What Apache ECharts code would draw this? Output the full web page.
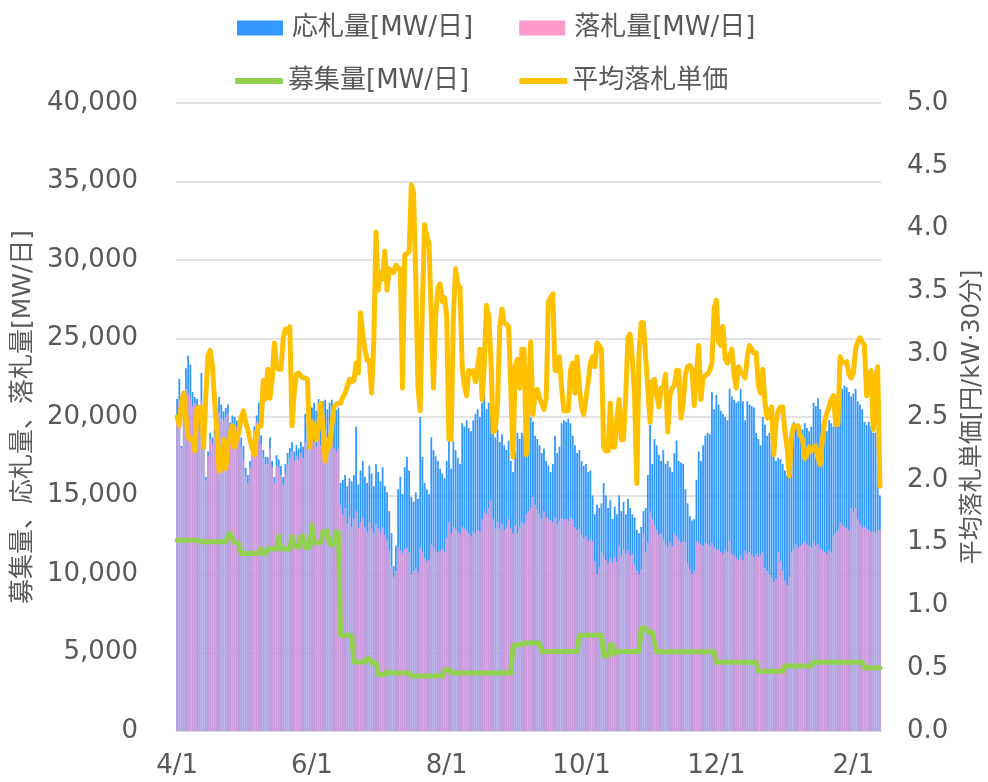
<!DOCTYPE html>
<html>
<head>
<meta charset="utf-8">
<script src="https://cdn.jsdelivr.net/npm/echarts@6/dist/echarts.min.js"></script>
<style>
  html, body { margin: 0; padding: 0; background: #fff; }
  #chart { width: 988px; height: 782px; }
</style>
</head>
<body>
<div id="chart"></div>
<script>
// daily data from 4/1 to 2/13
const monthLengths = [30, 31, 30, 31, 31, 30, 31, 30, 31, 31, 28];
const firstMonth = 4;
const dayCount = 319;
const tickLabels = ['4/1', '6/1', '8/1', '10/1', '12/1', '2/1'];

// 応札量 [MW/日]
const bidVolume = [
    21150, 22430, 18150, 21500, 23100, 23900, 23350, 21600, 21270, 21150,
    20500, 22800, 18700, 16180, 17800, 19000, 18700, 19200, 20600, 21270,
    20800, 20350, 20580, 20800, 19650, 20100, 20000, 19770, 19300, 18700,
    18150, 16760, 16300, 17200, 18380, 19400, 20100, 20900, 18840, 17900,
    17450, 17450, 18700, 17200, 16180, 17570, 17300, 16880, 16180, 17000,
    17700, 18030, 18400, 17800, 18200, 18000, 18400, 18100, 20200, 19500,
    19900, 20600, 20900, 20400, 21150, 20700, 21000, 21100, 20500, 20900,
    21100, 20700, 20450, 20600, 15800, 16000, 16300, 15600, 16100, 15900,
    16300, 19400, 15700, 16600, 17200, 16200, 15800, 16900, 16400, 15600,
    17000, 16500, 15900, 16800, 15600, 15200, 14000, 12600, 10500, 11800,
    15400, 16200, 15100, 16800, 17450, 16600, 14900, 14600, 15200, 14800,
    20000, 17450, 15800, 15400, 15100, 18700, 17900, 17500, 17200, 16700,
    16400, 16100, 17200, 18500, 16700, 18450, 17900, 17400, 17000, 19600,
    19400, 19800, 19300, 19100, 19800, 20200, 20500, 20000, 20900, 21400,
    20500, 20900, 22300, 19000, 18700, 19200, 18400, 18900, 18200, 17900,
    18500, 17200, 16500, 17800, 19000, 18600, 19000, 18800, 19500, 19800,
    20000, 19700, 18800, 18600, 18200, 17700, 18000, 17200, 16900, 16500,
    17000, 18800, 17700, 18100, 19600, 19800, 19700, 19900, 19600, 18800,
    18200, 17700, 17900, 17200, 16900, 17000, 16500, 16600, 15000, 13800,
    14400, 14200, 14500, 15800, 15000, 14200, 14700, 13500, 14300, 13800,
    15000, 14000, 14600, 13800, 14800, 14200, 13800, 13600, 12800, 12600,
    13000, 14000, 14200, 16300, 19500, 17000, 18600, 18200, 17600, 17200,
    17900, 17000, 17200, 16800, 16500, 17700, 18500, 17200, 17100, 17000,
    15400, 14500, 13700, 13400, 13500, 16000, 17800, 17200, 18200, 18800,
    19000, 18900, 21600, 20500, 21400, 20800, 20400, 20200, 20000, 19800,
    21800, 21300, 21100, 20900, 21000, 21800, 21000, 19800, 21000, 20800,
    20700, 20600, 19000, 18600, 18200, 20000, 19500, 18800, 19000, 18300,
    17600, 17200, 17400, 17300, 17000, 16600, 16300, 16800, 17400, 19700,
    19500, 19300, 19100, 19200, 19600, 19300, 19100, 19400, 20900, 20700,
    21200, 20500, 19500, 19300, 19100, 19800, 19600, 19400, 20800, 20900,
    21000, 21800, 22000, 21900, 21600, 21300, 21500, 21800, 21000, 20800,
    20500, 19700, 19500, 19700, 19400, 19000, 19000, 18600, 15000
];

// 落札量 [MW/日]
const awardVolume = [
    19800, 21000, 18000, 20500, 21800, 21500, 21300, 20700, 20900, 20700,
    20200, 21000, 18300, 16000, 17500, 18600, 18300, 18800, 19600, 20300,
    19900, 19800, 20000, 20200, 19300, 19600, 19500, 19400, 18900, 18100,
    17300, 16200, 15800, 16800, 18000, 19100, 19700, 19600, 18300, 17400,
    17000, 17000, 18000, 16800, 15800, 16900, 16800, 16300, 15700, 16400,
    17000, 17400, 17800, 17200, 17500, 17300, 17700, 17400, 18400, 18000,
    18300, 18600, 18400, 18100, 18600, 18200, 18400, 18500, 17900, 18300,
    18400, 18000, 17800, 18000, 14400, 13800, 14200, 13200, 13600, 13000,
    13500, 14000, 12900, 13300, 13600, 13000, 12700, 13300, 12900, 12600,
    13200, 12900, 12600, 13000, 12500, 12200, 11500, 10500, 9800, 10200,
    11700, 11500, 11300, 11600, 11700, 11400, 10000, 10200, 10400, 10100,
    11700, 11400, 11000, 10800, 10900, 11900, 11700, 11500, 11400, 11500,
    11600, 11400, 12300, 13300, 12600, 13000, 12900, 12700, 12600, 13000,
    12900, 12800, 12600, 12400, 12700, 12600, 12800, 12700, 13500, 14000,
    13800, 14200, 14700, 13500, 12900, 13300, 12900, 13200, 12800, 13000,
    13500, 12900, 12600, 13100, 12600, 13000, 13300, 13200, 13800, 14000,
    14200, 14900, 14400, 14100, 13800, 13500, 14000, 13600, 13500, 13400,
    13300, 13600, 13200, 13400, 13600, 13500, 13500, 13400, 13600, 13500,
    13000, 12800, 12900, 12500, 12300, 12400, 12100, 12200, 12100, 10800,
    10000, 10400, 11400, 11200, 10900, 10700, 11000, 10700, 11100, 10800,
    11800, 11200, 11600, 11300, 11500, 11200, 11300, 10600, 10200, 10000,
    10300, 12600, 11400, 12000, 14000, 13500, 13100, 12800, 12500, 12600,
    12200, 11900, 11700, 12000, 11800, 12600, 12400, 12200, 12000, 12100,
    12000, 10700, 10300, 10000, 10200, 12100, 12000, 11900, 11800, 12000,
    11900, 11800, 12000, 11700, 11500, 11600, 11400, 11300, 11500, 11400,
    12100, 11300, 11200, 11000, 10900, 11200, 10900, 11500, 11300, 11400,
    11200, 11100, 11300, 11100, 11200, 11400, 10400, 10200, 10000, 9800,
    9500, 9700, 11400, 10800, 10200, 9600, 9300, 9800, 11400, 11600,
    11900, 11700, 11800, 11900, 12100, 11900, 11800, 11700, 12000, 11800,
    11900, 11600, 11500, 11400, 11300, 11500, 11400, 12400, 12600, 12800,
    13300, 13100, 13000, 12900, 12800, 14200, 14000, 14200, 13500, 13200,
    13000, 13000, 12900, 12800, 12700, 12700, 12600, 12800, 12800
];

// 募集量 [MW/日]
const requestVolume = [
    12150, 12150, 12150, 12150, 12150, 12150, 12150, 12150, 12150, 12150,
    12150, 12050, 12050, 12050, 12050, 12050, 12050, 12050, 12050, 12050,
    12050, 12050, 12050, 12400, 12600, 12300, 12000, 12000, 11900, 11300,
    11300, 11300, 11300, 11300, 11300, 11300, 11300, 11300, 11600, 11300,
    11300, 11600, 11600, 11600, 11600, 11600, 12400, 11600, 11600, 11600,
    11600, 11600, 12400, 11800, 11800, 11700, 12400, 12400, 11700, 11700,
    11700, 13100, 12000, 12000, 12000, 12000, 12700, 12700, 12700, 11900,
    11900, 11900, 12700, 12600, 6100, 6100, 6100, 6100, 6100, 6100,
    4400, 4400, 4400, 4400, 4400, 4400, 4600, 4600, 4350, 4350,
    4350, 3600, 3600, 3600, 3600, 3800, 3700, 3700, 3700, 3700,
    3700, 3700, 3700, 3700, 3700, 3700, 3500, 3500, 3500, 3500,
    3500, 3500, 3500, 3500, 3500, 3500, 3500, 3500, 3500, 3500,
    3500, 3900, 3900, 3900, 3700, 3700, 3700, 3700, 3700, 3700,
    3700, 3700, 3700, 3700, 3700, 3700, 3700, 3700, 3700, 3700,
    3700, 3700, 3700, 3700, 3700, 3700, 3700, 3700, 3700, 3700,
    3700, 3700, 5400, 5500, 5500, 5500, 5500, 5600, 5600, 5600,
    5600, 5600, 5600, 5600, 5600, 5070, 5070, 5070, 5070, 5070,
    5070, 5070, 5070, 5070, 5070, 5070, 5070, 5070, 5070, 5070,
    5070, 5070, 6100, 6100, 6100, 6100, 6100, 6100, 6100, 6100,
    6100, 6100, 6100, 4800, 4800, 4800, 5500, 5500, 4900, 5070,
    5070, 5070, 5070, 5070, 5070, 5070, 5070, 5070, 5070, 5070,
    6550, 6550, 6550, 6300, 6300, 6300, 5600, 5050, 5050, 5050,
    5050, 5050, 5050, 5050, 5050, 5050, 5050, 5050, 5050, 5050,
    5050, 5050, 5050, 5050, 5050, 5050, 5050, 5050, 5050, 5050,
    5050, 5050, 5050, 5050, 4380, 4380, 4380, 4380, 4380, 4380,
    4380, 4380, 4380, 4380, 4380, 4380, 4380, 4380, 4380, 4380,
    4380, 4380, 4380, 3800, 3800, 3800, 3800, 3800, 3800, 3800,
    3800, 3800, 3800, 3800, 3800, 4140, 4140, 4140, 4140, 4140,
    4140, 4140, 4140, 4140, 4140, 4140, 4140, 4140, 4380, 4380,
    4380, 4380, 4380, 4380, 4380, 4380, 4380, 4380, 4380, 4380,
    4380, 4380, 4380, 4380, 4380, 4380, 4380, 4380, 4380, 4380,
    4380, 4030, 4030, 4030, 4030, 4030, 4030, 4030, 4030
];

// 平均落札単価 [円/kW・30分]
const avgPrice = [
    2.50, 2.43, 2.62, 2.69, 2.50, 2.34, 2.32, 2.33, 2.23, 2.56,
    2.58, 2.58, 2.26, 2.67, 2.99, 3.03, 2.90, 2.62, 2.38, 2.07,
    2.09, 2.32, 2.09, 2.28, 2.36, 2.43, 2.26, 2.32, 2.38, 2.50,
    2.55, 2.46, 2.40, 2.32, 2.25, 2.20, 2.38, 2.43, 2.43, 2.79,
    2.64, 2.88, 2.65, 2.80, 3.09, 2.90, 2.88, 2.88, 3.13, 3.20,
    3.18, 3.22, 2.43, 2.70, 2.84, 2.85, 2.83, 2.81, 2.81, 2.80,
    2.26, 2.46, 2.40, 2.32, 2.43, 2.61, 2.43, 2.15, 2.32, 2.26,
    2.43, 2.58, 2.60, 2.61, 2.61, 2.66, 2.69, 2.74, 2.80, 2.78,
    2.79, 2.93, 2.85, 3.33, 3.16, 3.04, 2.95, 2.95, 2.69, 3.10,
    3.97, 3.51, 3.65, 3.60, 3.82, 3.51, 3.68, 3.65, 3.65, 3.71,
    3.68, 3.68, 2.73, 3.79, 3.80, 3.82, 4.35, 4.29, 3.60, 2.73,
    2.55, 3.40, 4.03, 3.94, 3.88, 3.30, 2.73, 3.30, 3.53, 3.56,
    3.42, 3.45, 3.30, 2.32, 2.32, 3.30, 3.68, 3.56, 3.53, 2.90,
    2.75, 2.67, 2.87, 2.85, 2.87, 2.78, 2.90, 3.04, 2.64, 2.93,
    3.39, 3.30, 2.96, 2.38, 2.40, 2.61, 3.22, 3.36, 3.25, 3.24,
    3.22, 2.73, 2.18, 2.90, 2.96, 2.73, 3.04, 3.04, 2.20, 2.67,
    3.10, 2.52, 2.69, 2.72, 2.65, 2.61, 2.56, 2.64, 3.42, 3.45,
    3.48, 2.87, 2.87, 2.98, 2.73, 2.55, 2.55, 2.55, 2.87, 2.93,
    2.69, 2.98, 2.73, 2.58, 2.52, 2.65, 2.78, 2.93, 2.98, 2.90,
    3.09, 3.07, 3.04, 2.26, 2.23, 2.23, 2.61, 2.26, 2.26, 2.49,
    2.64, 2.32, 2.32, 2.67, 3.13, 3.16, 2.96, 2.67, 1.97, 3.01,
    3.25, 3.25, 2.98, 2.73, 2.46, 2.78, 2.80, 2.67, 2.58, 2.73,
    2.73, 2.84, 2.38, 2.67, 2.73, 2.75, 2.87, 2.87, 2.49, 2.61,
    2.84, 2.90, 2.91, 2.88, 2.59, 2.84, 3.07, 2.64, 2.81, 2.83,
    2.84, 2.87, 2.93, 3.36, 3.43, 3.10, 3.07, 3.22, 2.96, 2.93,
    2.98, 3.04, 2.84, 2.73, 2.90, 2.86, 2.84, 2.81, 2.98, 3.07,
    3.04, 3.01, 3.01, 2.75, 2.69, 2.88, 2.61, 2.49, 2.55, 2.58,
    2.20, 2.46, 2.55, 2.58, 2.58, 2.38, 2.26, 2.03, 2.35, 2.43,
    2.43, 2.43, 2.35, 2.32, 2.17, 2.20, 2.26, 2.23, 2.26, 2.27,
    2.17, 2.12, 2.32, 2.46, 2.53, 2.58, 2.64, 2.67, 2.44, 2.44,
    2.98, 2.93, 2.93, 2.94, 2.84, 2.81, 2.85, 3.04, 3.10, 3.13,
    3.10, 3.07, 2.67, 2.84, 2.87, 2.40, 2.78, 2.90, 1.95
];

function buildDayLabels() {
    const labels = [];
    let m = 0, d = 1;
    for (let i = 0; i < dayCount; i++) {
        const month = ((firstMonth - 1 + m) % 12) + 1;
        labels.push(month + '/' + d);
        d++;
        if (d > monthLengths[m]) { d = 1; m++; }
    }
    return labels;
}

const days = buildDayLabels();
const textColor = '#595959';
const gridColor = '#d9d9d9';
const font = '"DejaVu Sans", "Noto Sans CJK JP", sans-serif';
const showTick = (idx, value) => tickLabels.indexOf(value) !== -1;

const chart = echarts.init(document.getElementById('chart'), null, { renderer: 'canvas' });

chart.setOption({
    animation: false,
    textStyle: { fontFamily: font, color: textColor },
    grid: {
        left: 176, right: 107, top: 103, bottom: 51,
        containLabel: false, outerBoundsMode: 'none'
    },
    legend: [
        {
            data: [
                { name: '応札量[MW/日]', itemStyle: { color: '#3399FF' } },
                { name: '落札量[MW/日]', itemStyle: { color: '#FF99CC', opacity: 1 } }
            ],
            left: 232, top: 10,
            icon: 'rect', itemWidth: 46, itemHeight: 15, itemGap: 46,
            textStyle: { fontSize: 26, color: textColor, fontFamily: font, padding: [0, 0, 0, 4] }
        },
        {
            data: ['募集量[MW/日]', '平均落札単価'],
            left: 230, top: 63,
            icon: 'roundRect', itemWidth: 48, itemHeight: 6, itemGap: 50,
            textStyle: { fontSize: 26, color: textColor, fontFamily: font }
        }
    ],
    xAxis: {
        type: 'category',
        data: days,
        boundaryGap: true,
        axisLine: { lineStyle: { color: gridColor, width: 1.5 } },
        axisTick: {
            interval: showTick, alignWithLabel: true, length: 9,
            lineStyle: { color: gridColor, width: 1.5 }
        },
        axisLabel: {
            interval: showTick, color: textColor, fontSize: 26,
            fontFamily: font, margin: 22
        }
    },
    yAxis: [
        {
            type: 'value', min: 0, max: 40000, interval: 5000,
            name: '募集量、応札量、落札量[MW/日]',
            nameLocation: 'middle', nameGap: 137, nameRotate: 90,
            nameTextStyle: { fontSize: 25, color: textColor, fontFamily: font },
            axisLine: { show: false },
            axisTick: { show: false },
            splitLine: { lineStyle: { color: gridColor, width: 1.5 } },
            axisLabel: {
                color: textColor, fontSize: 26, fontFamily: font, margin: 38,
                formatter: v => v.toLocaleString('en-US')
            }
        },
        {
            type: 'value', min: 0, max: 5, interval: 0.5, position: 'right',
            name: '平均落札単価[円/kW·30分]',
            nameLocation: 'middle', nameGap: 80, nameRotate: 90,
            nameTextStyle: { fontSize: 24, color: textColor, fontFamily: font },
            axisLine: { show: false },
            axisTick: { show: false },
            splitLine: { show: false },
            axisLabel: {
                color: textColor, fontSize: 26, fontFamily: font, margin: 26,
                formatter: v => v.toFixed(1)
            }
        }
    ],
    series: [
        {
            name: '応札量[MW/日]', type: 'bar', data: bidVolume,
            barCategoryGap: '18%',
            itemStyle: { color: '#3399FF' }
        },
        {
            name: '落札量[MW/日]', type: 'bar', data: awardVolume,
            barGap: '-100%',
            itemStyle: { color: '#FF99CC', opacity: 0.74 }
        },
        {
            name: '募集量[MW/日]', type: 'line', data: requestVolume,
            symbol: 'none', z: 3,
            lineStyle: { color: '#92D050', width: 5, cap: 'round', join: 'round' },
            itemStyle: { color: '#92D050' }
        },
        {
            name: '平均落札単価', type: 'line', yAxisIndex: 1, data: avgPrice,
            symbol: 'none', z: 4,
            lineStyle: { color: '#FFC000', width: 5, cap: 'round', join: 'round' },
            itemStyle: { color: '#FFC000' }
        }
    ]
});
</script>
</body>
</html>
